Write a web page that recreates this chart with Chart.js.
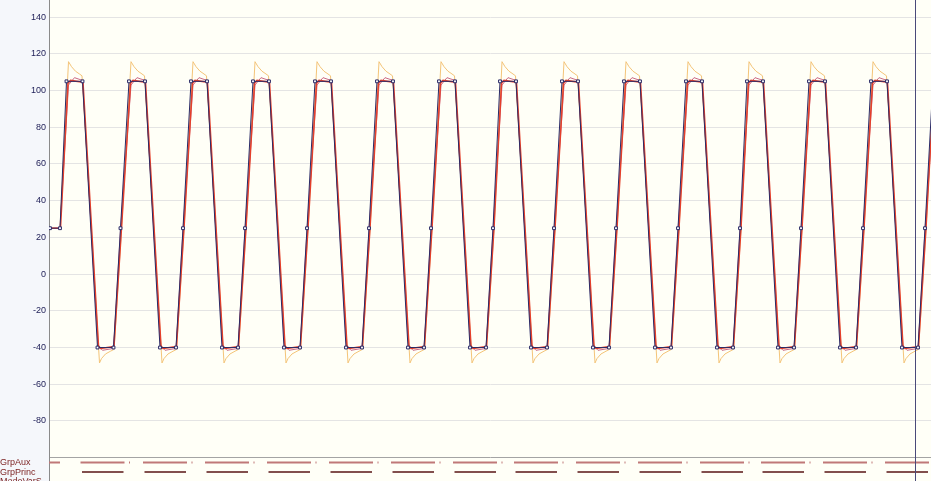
<!DOCTYPE html>
<html>
<head>
<meta charset="utf-8">
<script src="https://cdn.jsdelivr.net/npm/chart.js@4"></script>
<style>
  body { margin: 0; background: #f5f7fb; }
  canvas { display: block; }
</style>
</head>
<body>
<canvas id="chart" width="931" height="481"></canvas>
<script>
const cycleStarts = [17.5, 80, 142, 204, 266, 328, 390, 451, 513, 575, 637, 698, 760, 822];
const yTicks = [-100, -80, -60, -40, -20, 0, 20, 40, 60, 80, 100, 120, 140];

// setpoint (dark, with markers)
const spLeadT = [1, 11];
const spLeadV = [25, 25];
const spOffsets = [0, 16, 31, 47, 54];
const spValues = [105, 105, -40, -40, 25];
const spTailT = [884];
const spTailV = [105];

// red response
const redLeadT = [0, 11.5];
const redLeadV = [25, 25];
const redOffsets = [1.5, 4, 16.5, 32, 34, 47.5, 55];
const redValues = [104, 105.5, 104.5, -39, -40.5, -39.5, 25];
const redTailT = [885];
const redTailV = [104];

// pink response
const pinkLeadT = [0, 11];
const pinkLeadV = [25, 25];
const pinkOffsets = [2, 8, 16, 31.5, 36, 47, 54];
const pinkValues = [103, 107, 105.5, -39, -41.5, -40.5, 24];
const pinkTailT = [886];
const pinkTailV = [103];

// orange response (overshoot)
const orLeadT = [0, 11];
const orLeadV = [25, 25];
const orOffsets = [2, 5, 9, 13, 15.5, 33, 35, 39, 44, 47.5, 55];
const orValues = [115.7, 113, 110.5, 109, 108, -48.4, -46, -43.5, -42, -41, 25];
const orTailT = [886];
const orTailV = [115];

// bottom strip (state bars)
const auxLevel = -102.6;
const auxLead = [0, 11];
const auxOn = [14, 58];
const auxDot = [62.5, 63.5];
const princLevel = -107.8;
const princOn = [15.5, 57];

const cursorT = 866;

function build(leadT, leadV, offs, vals, tailT, tailV) {
  const pts = leadT.map((t, i) => ({ x: t, y: leadV[i] }));
  cycleStarts.forEach(c => {
    offs.forEach((o, i) => pts.push({ x: c + o, y: vals[i] }));
  });
  tailT.forEach((t, i) => pts.push({ x: t, y: tailV[i] }));
  return pts;
}

function bars(level, lead, on, dot) {
  const pts = [];
  const seg = (a, b) => {
    pts.push({ x: a, y: level }, { x: b, y: level }, { x: b + 0.01, y: null });
  };
  if (lead) seg(lead[0], lead[1]);
  cycleStarts.forEach(c => {
    seg(c + on[0], c + on[1]);
    if (dot) seg(c + dot[0], c + dot[1]);
  });
  return pts;
}

const bgPlugin = {
  id: 'bg',
  beforeDraw(chart) {
    const { ctx, chartArea: a } = chart;
    ctx.save();
    ctx.fillStyle = '#f5f7fb';
    ctx.fillRect(0, 0, chart.width, chart.height);
    ctx.fillStyle = '#fffff7';
    ctx.fillRect(a.left, a.top, a.right - a.left, a.bottom - a.top);
    ctx.restore();
  },
  afterDraw(chart) {
    const { ctx, chartArea: a } = chart;
    const x = chart.scales.x.getPixelForValue(cursorT);
    const y = chart.scales.y;
    ctx.save();
    ctx.strokeStyle = '#4a4a7a';
    ctx.lineWidth = 1;
    ctx.beginPath();
    ctx.moveTo(Math.round(x) + 0.5, a.top);
    ctx.lineTo(Math.round(x) + 0.5, a.bottom);
    ctx.stroke();
    ctx.fillStyle = '#7a1f1f';
    ctx.font = '9px "Liberation Sans"';
    ctx.textBaseline = 'middle';
    ctx.fillText('GrpAux', 0, y.getPixelForValue(auxLevel) + 0.5);
    ctx.fillText('GrpPrinc', 0, y.getPixelForValue(princLevel) + 0.5);
    ctx.fillText('ModeVarS', 0, y.getPixelForValue(-112.5) + 1);
    ctx.restore();
  }
};

new Chart(document.getElementById('chart'), {
  type: 'line',
  data: {
    datasets: [
      {
        label: 'Consigne',
        data: build(spLeadT, spLeadV, spOffsets, spValues, spTailT, spTailV),
        borderColor: '#2a2a66',
        borderWidth: 1,
        pointStyle: 'rect',
        pointRadius: 2,
        pointBorderWidth: 1,
        pointBackgroundColor: '#ffffff',
        pointBorderColor: '#2a2a66',
        tension: 0
      },
      {
        label: 'Mesure',
        data: build(redLeadT, redLeadV, redOffsets, redValues, redTailT, redTailV),
        borderColor: '#e4402c',
        borderWidth: 1.5,
        pointRadius: 0
      },
      {
        label: 'Modele',
        data: build(pinkLeadT, pinkLeadV, pinkOffsets, pinkValues, pinkTailT, pinkTailV),
        borderColor: '#cc6a86',
        borderWidth: 1,
        pointRadius: 0
      },
      {
        label: 'Commande',
        data: build(orLeadT, orLeadV, orOffsets, orValues, orTailT, orTailV),
        borderColor: '#f4c478',
        borderWidth: 1,
        pointRadius: 0
      },
      {
        label: 'GrpAux',
        data: bars(auxLevel, auxLead, auxOn, auxDot),
        borderColor: '#c07878',
        borderWidth: 2,
        pointRadius: 0,
        spanGaps: false
      },
      {
        label: 'GrpPrinc',
        data: bars(princLevel, null, princOn, null),
        borderColor: '#5a1616',
        borderWidth: 1.5,
        pointRadius: 0,
        spanGaps: false
      }
    ]
  },
  options: {
    responsive: false,
    animation: false,
    layout: { padding: 0, autoPadding: false },
    plugins: {
      legend: { display: false },
      tooltip: { enabled: false }
    },
    scales: {
      x: { type: 'linear', min: 0, max: 882, display: false },
      y: {
        min: -112.7,
        max: 149.3,
        afterBuildTicks: s => { s.ticks = yTicks.map(v => ({ value: v })); },
        afterFit: s => {
          s.width = 49;
          s.paddingTop = 0;
          s.paddingBottom = 0;
        },
        ticks: {
          color: '#1c1c55',
          font: { family: 'Liberation Sans', size: 9 },
          padding: 3,
          autoSkip: false,
          callback: v => (v === -100 ? '' : v)
        },
        grid: {
          color: c => (c.tick && c.tick.value === -100 ? '#a4a4a4' : '#e4e4e4'),
          drawTicks: false
        },
        border: { color: '#8a8a8a' }
      }
    }
  },
  plugins: [bgPlugin]
});
</script>
</body>
</html>
